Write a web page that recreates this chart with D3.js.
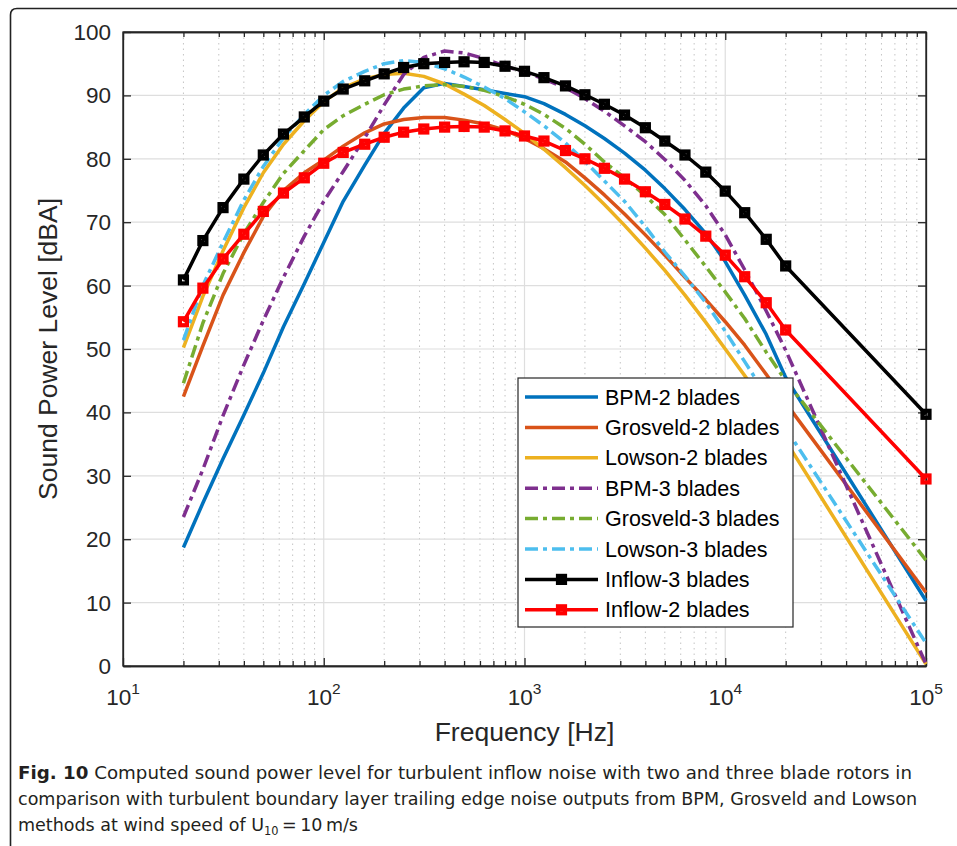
<!DOCTYPE html>
<html>
<head>
<meta charset="utf-8">
<script src="https://cdn.jsdelivr.net/npm/d3@7"></script>
<style>
  body { margin: 0; background: #fff; }
  svg { display: block; font-family: "Liberation Sans", Arial, sans-serif; }
</style>
</head>
<body>
<svg id="chart" width="957" height="846"></svg>
<script>
// frequencies (Hz), 1/3 octave bands + end point
var freqs = [20, 25, 31.5, 40, 50, 63, 80, 100, 125, 160, 200, 250, 315, 400, 500, 630, 800,
    1000, 1250, 1600, 2000, 2500, 3150, 4000, 5000, 6300, 8000, 10000, 12500, 16000, 20000, 100000];

var bpm2 = [18.7, 25.7, 32.7, 39.6, 46.2, 53.5, 60.3, 66.8, 73.3, 79.0, 84.0, 88.0, 91.2, 91.9, 91.4, 90.9, 90.3,
    89.8, 88.7, 87.0, 85.2, 83.2, 80.9, 78.2, 75.3, 72.0, 68.2, 63.8, 58.5, 52.3, 45.5, 10.3];
var grosveld2 = [42.5, 50.5, 58.5, 65.2, 70.9, 75.0, 77.8, 79.8, 82.0, 84.1, 85.5, 86.2, 86.5, 86.5, 86.1, 85.5, 84.5,
    83.2, 81.6, 79.5, 77.0, 74.3, 71.3, 68.0, 64.8, 61.3, 57.8, 54.3, 50.6, 46.0, 41.5, 11.6];
var lowson2 = [50.2, 58.3, 65.5, 72.3, 77.8, 82.3, 86.0, 89.0, 91.2, 92.6, 93.3, 93.5, 93.0, 91.8, 90.2, 88.4, 86.2,
    84.0, 81.5, 78.6, 75.8, 72.8, 69.5, 65.9, 62.4, 58.5, 54.2, 50.0, 45.8, 41.0, 35.5, 0.3];
var bpm3 = [23.5, 31.0, 39.5, 47.5, 54.5, 61.3, 67.8, 73.3, 78.0, 83.3, 88.5, 93.3, 96.0, 97.0, 96.7, 95.8, 94.6,
    93.7, 92.6, 91.2, 89.5, 87.5, 85.2, 82.7, 79.9, 76.6, 72.6, 68.0, 62.5, 56.0, 49.8, 0.3];
var grosveld3 = [44.6, 54.1, 61.9, 68.2, 73.1, 77.7, 81.3, 84.6, 86.8, 88.6, 90.1, 91.0, 91.5, 91.7, 91.4, 90.8, 89.8,
    88.6, 87.0, 84.8, 82.3, 79.5, 77.0, 74.2, 71.2, 67.2, 63.0, 59.0, 54.8, 49.5, 45.0, 16.7];
var lowson3 = [51.4, 60.0, 66.8, 73.5, 78.8, 83.3, 87.0, 90.0, 92.2, 93.8, 95.0, 95.5, 95.2, 94.2, 92.9, 91.3, 89.5,
    87.4, 85.2, 82.5, 79.6, 76.5, 73.3, 69.3, 65.3, 61.5, 57.3, 52.8, 48.0, 42.7, 37.5, 3.6];
var inflow3 = [60.9, 67.1, 72.3, 76.8, 80.6, 83.9, 86.6, 89.1, 91.0, 92.3, 93.4, 94.4, 95.0, 95.2, 95.3, 95.2, 94.6,
    93.8, 92.8, 91.5, 90.1, 88.6, 86.9, 84.9, 82.8, 80.6, 77.9, 74.9, 71.5, 67.3, 63.1, 39.7];
var inflow2 = [54.3, 59.6, 64.2, 68.1, 71.7, 74.6, 77.0, 79.3, 81.0, 82.3, 83.4, 84.2, 84.7, 85.0, 85.1, 85.0, 84.4,
    83.6, 82.8, 81.3, 80.0, 78.5, 76.8, 74.8, 72.8, 70.5, 67.8, 64.8, 61.4, 57.3, 53.0, 29.5];

var seriesNames = ['BPM-2 blades', 'Grosveld-2 blades', 'Lowson-2 blades', 'BPM-3 blades',
    'Grosveld-3 blades', 'Lowson-3 blades', 'Inflow-3 blades', 'Inflow-2 blades'];
var seriesValues = [bpm2, grosveld2, lowson2, bpm3, grosveld3, lowson3, inflow3, inflow2];
var seriesColors = ['#0072BD', '#D95319', '#EDB120', '#7E2F8E', '#77AC30', '#4DBEEE', '#000000', '#FF0000'];
var seriesDash = [null, null, null, '13,5,4,5', '13,5,4,5', '13,5,4,5', null, null];
var seriesMarker = [false, false, false, false, false, false, true, true];

var xMajor = [1e1, 1e2, 1e3, 1e4, 1e5];
var xExp = ['1', '2', '3', '4', '5'];
var yTicks = [0, 10, 20, 30, 40, 50, 60, 70, 80, 90, 100];

var svg = d3.select('#chart');
var axisColor = '#262626';
var lineW = 3.5;

var pLeft = 123, pRight = 926, pTop = 32, pBottom = 666;
var x = d3.scaleLog().domain([10, 1e5]).range([pLeft, pRight]);
var y = d3.scaleLinear().domain([0, 100]).range([pBottom, pTop]);

// minor ticks 2..9 in each decade
var xMinor = [];
xMajor.slice(0, -1).forEach(function(d) {
    for(var k = 2; k < 10; k++) xMinor.push(d * k);
});

// outer frame
svg.append('path')
    .attr('d', 'M 10.5 846 L 10.5 15 Q 10.5 8.5 17 8.5 L 960 8.5')
    .style('fill', 'none')
    .style('stroke', '#222')
    .style('stroke-width', 1.6);

// grid
var grid = svg.append('g');
grid.selectAll('.minor').data(xMinor).enter().append('line')
    .attr('x1', function(d) {return x(d);})
    .attr('x2', function(d) {return x(d);})
    .attr('y1', pTop).attr('y2', pBottom)
    .style('stroke', '#c4c4c4')
    .style('stroke-width', 1)
    .style('stroke-dasharray', '1.5,4');
grid.selectAll('.majx').data(xMajor).enter().append('line')
    .attr('x1', function(d) {return x(d);})
    .attr('x2', function(d) {return x(d);})
    .attr('y1', pTop).attr('y2', pBottom)
    .style('stroke', '#dedede')
    .style('stroke-width', 1.2);
grid.selectAll('.majy').data(yTicks).enter().append('line')
    .attr('x1', pLeft).attr('x2', pRight)
    .attr('y1', function(d) {return y(d);})
    .attr('y2', function(d) {return y(d);})
    .style('stroke', '#dedede')
    .style('stroke-width', 1.2);

// axes with inward ticks
function styleAxis(g) {
    g.selectAll('path').style('stroke', axisColor).style('stroke-width', 1.3);
    g.selectAll('line').style('stroke', axisColor).style('stroke-width', 1.3);
    g.selectAll('text').remove();
}
svg.append('g').attr('transform', 'translate(0,' + pBottom + ')')
    .call(d3.axisBottom(x).tickValues(xMajor).tickSizeInner(-8).tickSizeOuter(0).tickFormat(''))
    .call(styleAxis);
svg.append('g').attr('transform', 'translate(0,' + pBottom + ')')
    .call(d3.axisBottom(x).tickValues(xMinor).tickSizeInner(-5).tickSizeOuter(0).tickFormat(''))
    .call(styleAxis);
svg.append('g').attr('transform', 'translate(0,' + pTop + ')')
    .call(d3.axisTop(x).tickValues(xMajor).tickSizeInner(-8).tickSizeOuter(0).tickFormat(''))
    .call(styleAxis);
svg.append('g').attr('transform', 'translate(0,' + pTop + ')')
    .call(d3.axisTop(x).tickValues(xMinor).tickSizeInner(-5).tickSizeOuter(0).tickFormat(''))
    .call(styleAxis);
svg.append('g').attr('transform', 'translate(' + pLeft + ',0)')
    .call(d3.axisLeft(y).tickValues(yTicks).tickSizeInner(-8).tickSizeOuter(0).tickFormat(''))
    .call(styleAxis);
svg.append('g').attr('transform', 'translate(' + pRight + ',0)')
    .call(d3.axisRight(y).tickValues(yTicks).tickSizeInner(-8).tickSizeOuter(0).tickFormat(''))
    .call(styleAxis);

// tick labels
svg.selectAll('.ylab').data(yTicks).enter().append('text')
    .attr('x', 111)
    .attr('y', function(d) {return y(d) + 8;})
    .attr('text-anchor', 'end')
    .style('font-size', '22.5px')
    .style('fill', axisColor)
    .text(function(d) {return d;});

var xl = svg.selectAll('.xlab').data(xMajor).enter().append('text')
    .attr('x', function(d) {return x(d);})
    .attr('y', 705)
    .attr('text-anchor', 'middle')
    .style('font-size', '22.5px')
    .style('fill', axisColor);
xl.append('tspan').text('10');
xl.append('tspan')
    .attr('dy', -11)
    .style('font-size', '15.5px')
    .text(function(d, i) {return xExp[i];});

// axis titles
svg.append('text')
    .attr('x', (pLeft + pRight) / 2)
    .attr('y', 741)
    .attr('text-anchor', 'middle')
    .style('font-size', '26.5px')
    .style('fill', axisColor)
    .text('Frequency [Hz]');
svg.append('text')
    .attr('transform', 'translate(56.5,' + ((pTop + pBottom) / 2) + ') rotate(-90)')
    .attr('text-anchor', 'middle')
    .style('font-size', '26.5px')
    .style('fill', axisColor)
    .text('Sound Power Level [dBA]');

// box
svg.append('rect')
    .attr('x', pLeft).attr('y', pTop)
    .attr('width', pRight - pLeft).attr('height', pBottom - pTop)
    .style('fill', 'none')
    .style('stroke', axisColor)
    .style('stroke-width', 1.3);

// series
var line = d3.line()
    .x(function(d) {return x(d[0]);})
    .y(function(d) {return y(d[1]);});

// square marker: hollow, thick edge (line through it makes it look filled)
function addMarker(g, cx, cy, color) {
    g.append('rect')
        .attr('x', cx - 3.5).attr('y', cy - 3.5)
        .attr('width', 7).attr('height', 7)
        .style('fill', 'none')
        .style('stroke', color)
        .style('stroke-width', 4.2);
}

var plot = svg.append('g');
seriesValues.forEach(function(vals, s) {
    var pts = freqs.map(function(f, i) {return [f, vals[i]];});
    plot.append('path')
        .attr('d', line(pts))
        .style('fill', 'none')
        .style('stroke', seriesColors[s])
        .style('stroke-width', lineW)
        .style('stroke-dasharray', seriesDash[s])
        .style('stroke-linejoin', 'round');
    if(seriesMarker[s])
        pts.forEach(function(d) {addMarker(plot, x(d[0]), y(d[1]), seriesColors[s]);});
});

// legend
var lg = svg.append('g');
lg.append('rect')
    .attr('x', 518).attr('y', 378)
    .attr('width', 275).attr('height', 249)
    .style('fill', '#fff')
    .style('stroke', axisColor)
    .style('stroke-width', 1.2);
seriesNames.forEach(function(name, s) {
    var ly = 397 + s * 30.4;
    lg.append('line')
        .attr('x1', 525).attr('x2', 598)
        .attr('y1', ly).attr('y2', ly)
        .style('stroke', seriesColors[s])
        .style('stroke-width', lineW)
        .style('stroke-dasharray', seriesDash[s]);
    if(seriesMarker[s])
        addMarker(lg, 561.5, ly, seriesColors[s]);
    lg.append('text')
        .attr('x', 605).attr('y', ly + 7.5)
        .style('font-size', '21.5px')
        .style('fill', '#000')
        .text(name);
});

// caption
var cap = svg.append('g')
    .style('font-family', '"DejaVu Sans Condensed", "Liberation Sans Narrow", sans-serif')
    .style('font-stretch', 'condensed')
    .style('font-size', '18.5px')
    .style('fill', '#231f20');
var t1 = cap.append('text').attr('x', 18).attr('y', 779)
    .attr('textLength', 894).attr('lengthAdjust', 'spacingAndGlyphs');
t1.append('tspan').style('font-weight', 'bold').text('Fig. 10');
t1.append('tspan').text(' Computed sound power level for turbulent inflow noise with two and three blade rotors in');
cap.append('text').attr('x', 18).attr('y', 805)
    .attr('textLength', 899).attr('lengthAdjust', 'spacingAndGlyphs')
    .text('comparison with turbulent boundary layer trailing edge noise outputs from BPM, Grosveld and Lowson');
var t3 = cap.append('text').attr('x', 18).attr('y', 831)
    .attr('textLength', 340).attr('lengthAdjust', 'spacingAndGlyphs');
t3.append('tspan').text('methods at wind speed of U');
t3.append('tspan').attr('dy', 4).style('font-size', '12px').text('10');
t3.append('tspan').attr('dy', -4).text('\u2009=\u200910\u2009m/s');
</script>
</body>
</html>
